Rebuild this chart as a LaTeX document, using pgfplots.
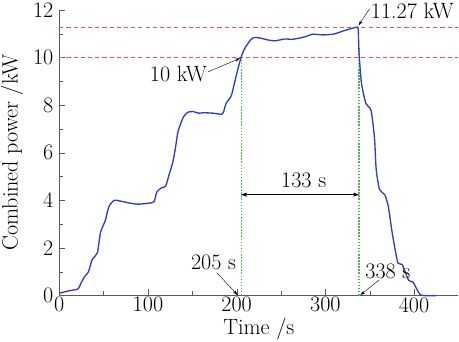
\documentclass[border=0pt]{standalone}
\usepackage{fontspec}
\usepackage{pgfplots}
\pgfplotsset{compat=1.18}
\usetikzlibrary{arrows.meta}
\definecolor{curve}{RGB}{50,60,190}
\definecolor{reddash}{RGB}{225,85,85}
\definecolor{greendot}{RGB}{70,185,70}
\begin{document}
\begin{tikzpicture}[font=\fontsize{21.5}{25}\selectfont]
\begin{axis}[
  scale only axis, width=387bp, height=277bp,
  xmin=0, xmax=450, ymin=0, ymax=12,
  axis lines=left, axis line style={black!65, -},
  xtick={0,100,200,300,400}, ytick={0,2,4,6,8,10,12},
  minor xtick={50,150,250,350}, minor ytick={1,3,5,7,9,11},
  tick align=inside, tick style={black!65},
  major tick length=6bp, minor tick length=4bp,
  /pgf/number format/assume math mode=true,
  tick label style={font=\fontsize{21.5}{25}\selectfont},
  xticklabel style={inner sep=1.5bp},
  yticklabel style={inner sep=2.5bp, xshift=-3bp},
  label style={font=\fontsize{21.5}{25}\selectfont},
  xlabel={Time /s}, ylabel={Combined power /kW},
  xlabel style={inner sep=1bp, yshift=-3bp}, ylabel style={inner sep=1bp, yshift=6bp},
  clip=false,
]
\addplot[draw=reddash, line width=1.2pt, dash pattern=on 4pt off 3pt] coordinates {(0,11.27) (450,11.27)};
\addplot[draw=reddash, line width=1.2pt, dash pattern=on 4pt off 3pt] coordinates {(0,10) (450,10)};
\addplot[draw=greendot, line width=1.1pt, dash pattern=on 1.5pt off 1.5pt] coordinates {(205,0) (205,10)};
\addplot[draw=greendot, line width=1.1pt, dash pattern=on 1.5pt off 1.5pt] coordinates {(338,0) (338,10.4)};
\addplot[draw=curve, line width=1.3pt, smooth, tension=0.4] coordinates {
(0,0.1) (11,0.2) (21,0.28) (25,0.56) (29,0.82) (33,1.0) (37,1.5) (43,1.8)
(46.5,2.65) (52,3.16) (56,3.74) (62,4.0) (70,3.96) (80,3.88) (89,3.84) (101,3.88)
(107,3.95) (110,4.35) (115.5,4.53) (120,4.6) (124,5.1) (128,5.6) (131,6.2) (134,6.9)
(140,7.5) (145,7.7) (151,7.73) (157,7.66) (163,7.68) (174,7.66) (184,7.63) (188,8.06)
(194,8.4) (198,9.0) (202,9.6) (205,10.0) (208,10.3) (212,10.55) (216,10.75) (220,10.84)
(227.5,10.81) (235,10.74) (243,10.7) (254.6,10.78) (262,10.76) (270,10.81) (278,10.88) (285.7,10.98)
(297,10.95) (309,10.98) (320.6,11.12) (328,11.2) (335,11.27) (337,11.2) (338,10.2)
(340.7,8.93) (345.7,8.07) (351.5,7.78) (355.4,6.62) (357.3,5.32) (361,4.46) (367,4.24)
(371,3.74) (375,2.73) (379,1.86) (382,1.36) (386.5,1.31) (390,1.0) (394,0.64) (399,0.56)
(402,0.35) (408,0.02) (425,0)
};
% annotations
\draw[-{Stealth[length=5bp,width=3bp]}, black, thin] (axis cs:168,9.4) -- (axis cs:204,9.97);
\node[anchor=east, inner sep=1bp] at (axis cs:168,9.3) {10 kW};
\draw[-{Stealth[length=5bp,width=3bp]}, black, thin] (axis cs:350,12.05) -- (axis cs:337.5,11.35);
\node[anchor=west, inner sep=1bp] at (axis cs:350,11.95) {11.27 kW};
\draw[{Stealth[length=6bp,width=4bp]}-{Stealth[length=6bp,width=4bp]}, black, thin] (axis cs:205,4.24) -- (axis cs:338,4.24);
\node at (axis cs:275.6,4.85) {133 s};
\draw[-{Stealth[length=5bp,width=3bp]}, black, thin] (axis cs:178,0.95) -- (axis cs:201,0.02);
\node at (axis cs:174,1.38) {205 s};
\draw[-{Stealth[length=5bp,width=3bp]}, black, thin] (axis cs:360.5,0.65) -- (axis cs:339.5,0.02);
\node at (axis cs:370.5,1.0) {338 s};
\end{axis}
\end{tikzpicture}
\end{document}
